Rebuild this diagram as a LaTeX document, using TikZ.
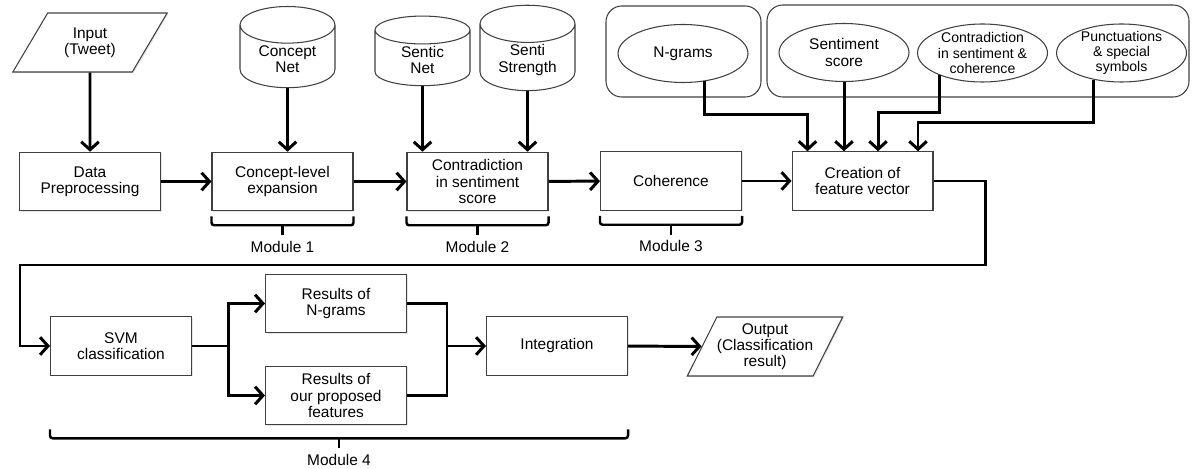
\documentclass[tikz,border=0pt]{standalone}
\usepackage{fontspec}
\setmainfont{Liberation Sans}
\usetikzlibrary{calc,shapes.geometric,arrows.meta,shadows}

\tikzset{
	box/.style={draw=black!75, line width=0.6pt, fill=white, minimum width=2.82cm, minimum height=1.17cm, align=center, drop shadow={opacity=0.2, shadow xshift=0.7pt, shadow yshift=-0.7pt}},
	io/.style={trapezium, trapezium left angle=63, trapezium right angle=117, trapezium stretches=true, draw=black!75, line width=0.6pt, fill=white, minimum width=3.1cm, minimum height=1.18cm, align=center, inner xsep=0pt, drop shadow={opacity=0.2, shadow xshift=0.7pt, shadow yshift=-0.7pt}},
	db/.style={cylinder, shape border rotate=90, aspect=0.6, draw=black!75, line width=0.6pt, fill=white, minimum width=1.9cm, minimum height=1.36cm, align=center, inner sep=1pt},
	feat/.style={ellipse, draw=black!75, line width=0.6pt, fill=white, minimum width=2.6cm, minimum height=1.16cm, align=center, inner sep=0pt, inner ysep=-4pt},
	smallfeat/.style={feat, font=\fontsize{8}{8.6}\selectfont},
	grp/.style={draw=black!75, line width=0.6pt, rounded corners=9pt},
	conn/.style={line width=1.7pt},
	arr/.style={conn, -{Straight Barb[length=4.5pt,width=10pt]}},
	brace/.style={line width=1.4pt, rounded corners=1.5pt},
	modlabel/.style={below, inner sep=2.5pt},
}

% bracket under a module: left point, right point, gap, name, text
\def\modbrace(#1)(#2)#3#4#5{%
	\draw[brace] ($(#1)+(0,#3)$) -- ++(0,9) -| ($(#2)+(0,#3)$);
	\draw[brace] ($(#1)!0.5!(#2)+(0,#3+9)$) -- ++(0,10) node[modlabel] (#4) {#5};}

\begin{document}
\begin{tikzpicture}[x=0.02cm, y=-0.02cm, font=\fontsize{8.8}{9.2}\selectfont]
	%%%%% START %%%%%
	\useasboundingbox (0,0) rectangle (1192,469);

	% sources
	\node[io] (in) at (90,42.5) {Input\\(Tweet)};
	\node[db] (cn) at (287.5,59) {Concept\\Net};
	\node[db] (sn) at (422.5,60) {Sentic\\Net};
	\node[db] (stx) at (527.5,60) {Senti\\Strength};

	% feature groups
	\draw[grp] (606,6) rectangle (761,97);
	\draw[grp] (767,5) rectangle (1189,97);
	\node[feat] (ng) at (683,53.5) {N-grams};
	\node[feat] (ss) at (844,52.5) {Sentiment\\score};
	\node[smallfeat] (ct) at (982.5,53) {Contradiction\\in sentiment \&\\coherence};
	\node[smallfeat] (pu) at (1121.5,53) {Punctuations\\\& special\\symbols};

	% first row
	\node[box] (dp) at (90,181.5) {Data\\Preprocessing};
	\node[box] (ce) at (282.5,181.5) {Concept-level\\expansion};
	\node[box] (cs) at (477.5,181.5) {Contradiction\\in sentiment\\score};
	\node[box] (co) at (671,181) {Coherence};
	\node[box] (fv) at (862.5,181) {Creation of\\feature vector};

	% second row
	\node[box] (svm) at (121,346) {SVM\\classification};
	\node[box] (rn) at (336,303.5) {Results of\\N-grams};
	\node[box] (rp) at (336,395.5) {Results of\\our proposed\\features};
	\node[box] (int) at (557,346) {Integration};
	\node[io] (out) at (765,346.5) {Output\\(Classification\\result)};

	% modules
	\modbrace(ce.south west)(ce.south east){5}{mod1}{Module 1}
	\modbrace(cs.south west)(cs.south east){5}{mod2}{Module 2}
	\modbrace(co.south west)(co.south east){5}{mod3}{Module 3}
	\modbrace(svm.south west |- rp.south)(int.south east |- rp.south){4}{mod4}{Module 4}

	% flow
	\draw[arr] (in) -- (dp);
	\draw[arr] (dp) -- (ce);
	\draw[arr] (cn) -- (cn |- ce.north);
	\draw[arr] (ce) -- (cs);
	\draw[arr] (sn) -- (sn |- cs.north);
	\draw[arr] (stx) -- (stx |- cs.north);
	\draw[arr] (cs) -- (co);
	\draw[arr] (co) -- (fv);

	\coordinate (fvA) at ([xshift=-1.1cm]fv.north);
	\coordinate (fvC) at ([xshift=0.31cm]fv.north);
	\coordinate (fvD) at ([xshift=1.11cm]fv.north);
	\draw[arr] (ng.307) -- ++(0,33) -| (fvA);
	\draw[arr] (ss) -- (ss |- fv.north);
	\draw[arr] (ct.207) -- ++(0,37) -| (fvC);
	\draw[arr] (pu.224) -- ++(0,43) -| (fvD);

	\coordinate (turnR) at (985,265);
	\coordinate (turnL) at (20,265);
	\draw[arr] (fv.east) -| (turnR) -- (turnL) |- (svm.west);

	\coordinate (split) at ([xshift=0.72cm]svm.east);
	\draw[conn] (svm.east) -- (split);
	\draw[arr] (split) |- (rn.west);
	\draw[arr] (split) |- (rp.west);

	\coordinate (merge) at ([xshift=-0.78cm]int.west);
	\draw[conn] (rn.east) -| (merge);
	\draw[conn] (rp.east) -| (merge);
	\draw[arr] (merge) -- (int.west);
	\draw[arr] (int) -- (out);

	%%%%% END %%%%%
\end{tikzpicture}
\end{document}
